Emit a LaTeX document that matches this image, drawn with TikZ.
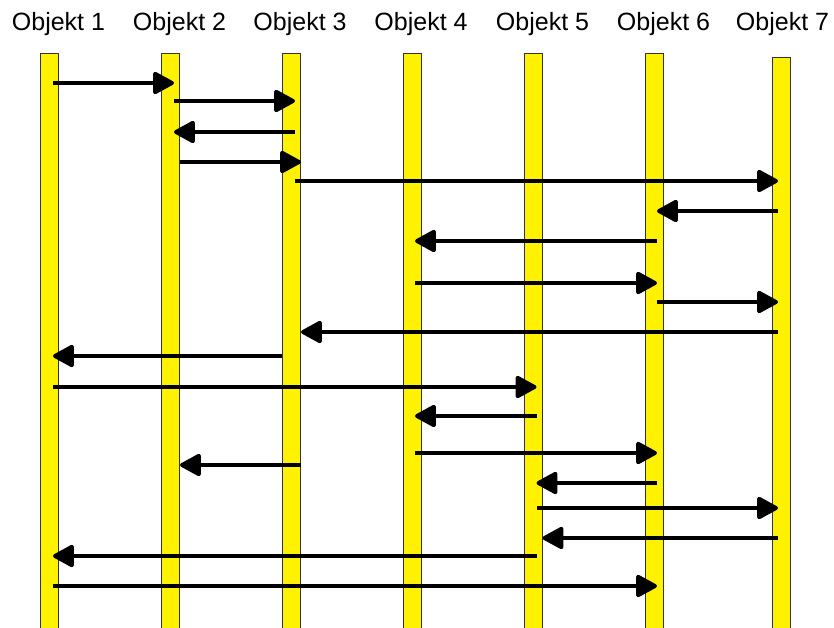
\documentclass[tikz,border=0pt]{standalone}
\usepackage{fontspec}
\setmainfont{Liberation Sans}
\usetikzlibrary{arrows.meta, positioning}

\begin{document}
\begin{tikzpicture}[x=1pt, y=-1pt, >={Triangle[length=23pt, width=24pt, round]},
    lifeline/.style={draw=black!80, line width=1pt, fill=yellow, anchor=north,
      minimum width=18pt, minimum height=600pt, inner sep=0pt},
    objname/.style={anchor=base, inner sep=0pt, font=\fontsize{25}{30}\selectfont},
    msg/.style={->, line width=3.8pt}]
    \useasboundingbox (0,0) rectangle (834,627);
    \clip (0,0) rectangle (834,627);

    % Lebenslinien
    \node[lifeline] (obj1) at (49,53) {};
    \node[lifeline] (obj2) at (170.5,53) {};
    \node[lifeline] (obj3) at (291.5,53) {};
    \node[lifeline] (obj4) at (412,53) {};
    \node[lifeline] (obj5) at (533,53) {};
    \node[lifeline] (obj6) at (654,53) {};
    \node[lifeline] (obj7) at (781,57) {};

    \node[objname] (name1) at (58.5,30) {Objekt 1};
    \node[objname] (name2) at (179.5,30) {Objekt 2};
    \node[objname] (name3) at (300,30) {Objekt 3};
    \node[objname] (name4) at (421,30) {Objekt 4};
    \node[objname] (name5) at (542.5,30) {Objekt 5};
    \node[objname] (name6) at (663.5,30) {Objekt 6};
    \node[objname] (name7) at (782.5,30) {Objekt 7};

    \coordinate (c1) at ([xshift=4pt]obj1.north);
    \coordinate (c2) at ([xshift=3.5pt]obj2.north);
    \coordinate (c3) at ([xshift=3.5pt]obj3.north);
    \coordinate (c4) at ([xshift=3pt]obj4.north);
    \coordinate (c5) at ([xshift=3.5pt]obj5.north);
    \coordinate (c6) at ([xshift=3pt]obj6.north);
    \coordinate (c7) at ([xshift=-3pt]obj7.north);

    % Nachrichten
    \draw[msg] (c1 |- 0,83) -- (c2 |- 0,83);
    \draw[msg] (c2 |- 0,101) -- (c3 |- 0,101);
    \draw[msg] (c3 |- 0,132) -- (c2 |- 0,132);
    \draw[msg] (obj2.east |- 0,162) -- (obj3.east |- 0,162);
    \draw[msg] (c3 |- 0,181) -- (c7 |- 0,181);
    \draw[msg] (c7 |- 0,211) -- (c6 |- 0,211);
    \draw[msg] (c6 |- 0,241) -- (c4 |- 0,241);
    \draw[msg] (c4 |- 0,283) -- (c6 |- 0,283);
    \draw[msg] (c6 |- 0,302) -- (c7 |- 0,302);
    \draw[msg] (c7 |- 0,332) -- (obj3.east |- 0,332);
    \draw[msg] (obj3.west |- 0,356) -- (c1 |- 0,356);
    \draw[msg] (c1 |- 0,387) -- (c5 |- 0,387);
    \draw[msg] (c5 |- 0,416) -- (c4 |- 0,416);
    \draw[msg] (c4 |- 0,453) -- (c6 |- 0,453);
    \draw[msg] (obj3.east |- 0,465) -- (obj2.east |- 0,465);
    \draw[msg] (c6 |- 0,483) -- (c5 |- 0,483);
    \draw[msg] (c5 |- 0,508) -- (c7 |- 0,508);
    \draw[msg] (c7 |- 0,538) -- (obj5.east |- 0,538);
    \draw[msg] (c5 |- 0,556) -- (c1 |- 0,556);
    \draw[msg] (c1 |- 0,586) -- (c6 |- 0,586);
\end{tikzpicture}
\end{document}
